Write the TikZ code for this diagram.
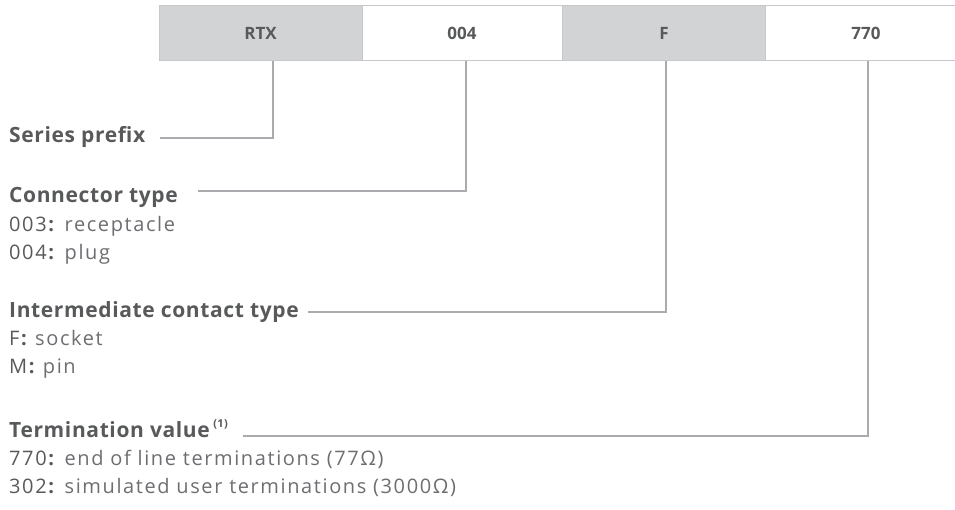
\documentclass[tikz,border=0pt]{standalone}
\usepackage{fontspec}
\setmainfont{Open Sans}
\newfontfamily\labfont[LetterSpace=3]{Open Sans}
\newfontfamily\descfont[LetterSpace=8]{Open Sans}
\definecolor{labc}{HTML}{58595B}
\definecolor{descc}{HTML}{6D6E71}
\definecolor{linec}{HTML}{A9ABAE}
\definecolor{cellfill}{HTML}{D1D3D4}
\definecolor{cellline}{HTML}{C6C8CA}
\tikzset{
  graycell/.style={rectangle, fill=cellfill, draw=cellline, line width=1pt, minimum width=203pt, minimum height=55pt, inner sep=0pt, text=labc, font=\fontsize{17}{20}\selectfont\bfseries},
  whitecell/.style={rectangle, minimum width=203pt, minimum height=55pt, inner sep=0pt, text=labc, font=\fontsize{17}{20}\selectfont\bfseries},
  lab/.style={anchor=base west, inner sep=0pt, text=labc, font=\labfont\fontsize{21}{24}\selectfont\bfseries},
  desc/.style={anchor=base west, inner sep=0pt, text=descc, font=\descfont\fontsize{20}{24}\selectfont},
  conn/.style={draw=linec, line width=1.5pt},
}
\newcommand{\code}[1]{{\color{labc}#1\textbf{:}}}
\begin{document}
\begin{tikzpicture}[x=1pt,y=-1pt]
\useasboundingbox (0,0) rectangle (955,510);
% bar
\draw[draw=cellline, line width=1pt] (159,6) -- (955,6);
\draw[draw=cellline, line width=1pt] (159,61) -- (955,61);
\node[graycell] (c1) at (260.5,33.5) {RTX};
\node[whitecell] (c2) at (462,33.5) {004};
\node[graycell] (c3) at (664,33.5) {F};
\node[whitecell] (c4) at (866,33.5) {770};
% labels
\node[lab] (l1) at (9,143) {Series prefix};
\node[lab] (l2) at (9,203) {Connector type};
\node[desc] (d21) at (9,232) {\code{003} receptacle};
\node[desc] (d22) at (9,260) {\code{004} plug};
\node[lab] (l3) at (9,317) {Intermediate contact type};
\node[desc] (d31) at (9,345) {\code{F} socket};
\node[desc] (d32) at (9,373) {\code{M} pin};
\node[lab] (l4) at (9,437) {Termination value\,\raisebox{0.45em}{\fontsize{11}{12}\selectfont (1)}};
\node[desc] (d41) at (9,465) {\code{770} end of line terminations (77Ω)};
\node[desc] (d42) at (9,493) {\code{302} simulated user terminations (3000Ω)};
% connector coordinates
\coordinate (a1) at (160,138);
\coordinate (b1) at (273,61);
\coordinate (a2) at (198,191);
\coordinate (b2) at (466,61);
\coordinate (a3) at (308,312);
\coordinate (b3) at (666,61);
\coordinate (a4) at (243,436);
\coordinate (b4) at (868,61);
\draw[conn] (a1) -| (b1);
\draw[conn] (a2) -| (b2);
\draw[conn] (a3) -| (b3);
\draw[conn] (a4) -| (b4);
\end{tikzpicture}
\end{document}
